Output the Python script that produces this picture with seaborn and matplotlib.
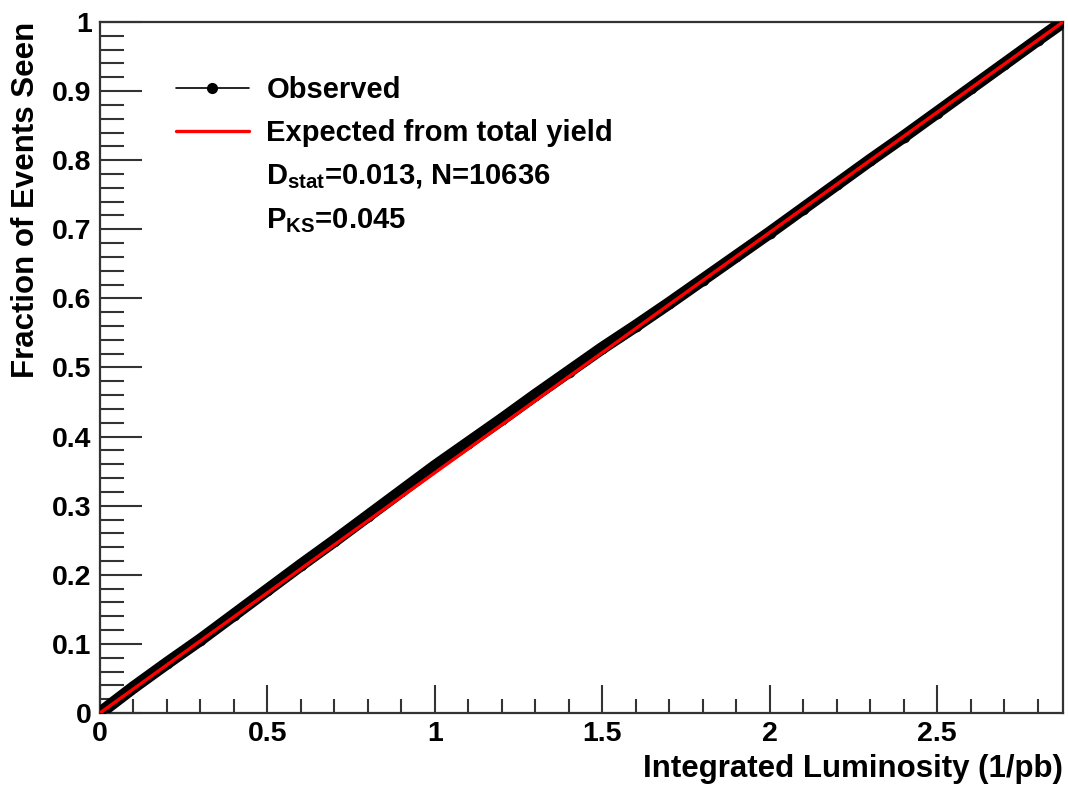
import matplotlib
matplotlib.use("Agg")
import matplotlib.pyplot as plt
from matplotlib.lines import Line2D
from matplotlib.ticker import MultipleLocator
import seaborn as sns
import pandas as pd

# Cumulative fraction of events seen versus integrated luminosity
lumi_obs = [0.0, 0.1, 0.2, 0.3, 0.4, 0.5, 0.6, 0.7, 0.8, 0.9, 1.0, 1.1, 1.2, 1.3,
            1.4, 1.5, 1.6, 1.7, 1.8, 1.9, 2.0, 2.1, 2.2, 2.3, 2.4, 2.5, 2.6, 2.7,
            2.8, 2.876]
frac_obs = [0.0, 0.037, 0.072, 0.106, 0.142, 0.178, 0.214, 0.249, 0.285, 0.321,
            0.357, 0.391, 0.425, 0.460, 0.494, 0.528, 0.560, 0.593, 0.627, 0.661,
            0.695, 0.730, 0.765, 0.800, 0.834, 0.869, 0.904, 0.939, 0.974, 1.0]

lumi_exp = [0.0, 2.876]
frac_exp = [0.0, 1.0]

legend_labels = ["Observed", "Expected from total yield",
                 r"D$_{\rm stat}$=0.013, N=10636", r"P$_{\rm KS}$=0.045"]

sns.set_theme(style="white")
plt.rcParams["font.family"] = ["Liberation Sans", "DejaVu Sans"]
plt.rcParams["font.weight"] = "bold"
plt.rcParams["text.color"] = "black"
plt.rcParams["axes.labelcolor"] = "black"
plt.rcParams["xtick.color"] = "black"
plt.rcParams["ytick.color"] = "black"
plt.rcParams["mathtext.fontset"] = "custom"
plt.rcParams["mathtext.rm"] = "Liberation Sans:bold"
plt.rcParams["mathtext.bf"] = "Liberation Sans:bold"
plt.rcParams["mathtext.it"] = "Liberation Sans:bold"

TICK_FS = 20.5
LABEL_FS = 22.5
LEG_FS = 21
frame_col = "#333333"

fig = plt.figure(figsize=(10.68, 7.86), dpi=100)
ax = fig.add_axes([0.0936, 0.0929, 0.9017, 0.8791])

obs = pd.DataFrame({"lumi": lumi_obs, "frac": frac_obs})
exp = pd.DataFrame({"lumi": lumi_exp, "frac": frac_exp})

sns.lineplot(data=obs, x="lumi", y="frac", ax=ax, color="black", lw=9,
             marker="o", markersize=8.5, markeredgewidth=0, sort=False,
             solid_capstyle="round", zorder=3)
sns.lineplot(data=exp, x="lumi", y="frac", ax=ax, color="#ff0000", lw=2.4,
             sort=False, zorder=4)

ax.set_xlim(0, 2.876)
ax.set_ylim(0, 1.0)

ax.set_xticks([0, 0.5, 1, 1.5, 2, 2.5])
ax.set_xticklabels(["0", "0.5", "1", "1.5", "2", "2.5"])
ax.set_yticks([0, 0.1, 0.2, 0.3, 0.4, 0.5, 0.6, 0.7, 0.8, 0.9, 1.0])
ax.set_yticklabels(["0", "0.1", "0.2", "0.3", "0.4", "0.5", "0.6", "0.7",
                    "0.8", "0.9", "1"])
ax.xaxis.set_minor_locator(MultipleLocator(0.1))
ax.yaxis.set_minor_locator(MultipleLocator(0.02))

ax.tick_params(axis="both", which="both", direction="in", color=frame_col,
               width=1.5, labelsize=TICK_FS, bottom=True, left=True,
               top=False, right=False, labelcolor="black")
ax.tick_params(axis="x", which="major", length=20, pad=6)
ax.tick_params(axis="x", which="minor", length=10)
ax.tick_params(axis="y", which="major", length=30, pad=6)
ax.tick_params(axis="y", which="minor", length=17)
for lab in ax.get_xticklabels() + ax.get_yticklabels():
    lab.set_fontweight("bold")

for sp in ax.spines.values():
    sp.set_color(frame_col)
    sp.set_linewidth(1.6)

ax.set_xlabel("Integrated Luminosity (1/pb)", fontsize=LABEL_FS,
              fontweight="bold", color="black", loc="right", labelpad=5)
ax.set_ylabel("Fraction of Events Seen", fontsize=LABEL_FS,
              fontweight="bold", color="black", loc="top", labelpad=8)

handles = [
    Line2D([0], [0], color="black", lw=1.2, marker="o", markersize=7),
    Line2D([0], [0], color="#ff0000", lw=2.4),
    Line2D([0], [0], color="none"),
    Line2D([0], [0], color="none"),
]
leg = ax.legend(handles, legend_labels, loc="upper left",
                bbox_to_anchor=(176 / 1068, 1 - 76 / 786),
                bbox_transform=fig.transFigure, frameon=False,
                borderpad=0, borderaxespad=0,
                handlelength=2.5, handletextpad=0.6, labelspacing=0.52,
                prop={"weight": "bold", "size": LEG_FS})
for t in leg.get_texts():
    t.set_color("black")

fig.savefig("out.png", dpi=100, facecolor="white")
